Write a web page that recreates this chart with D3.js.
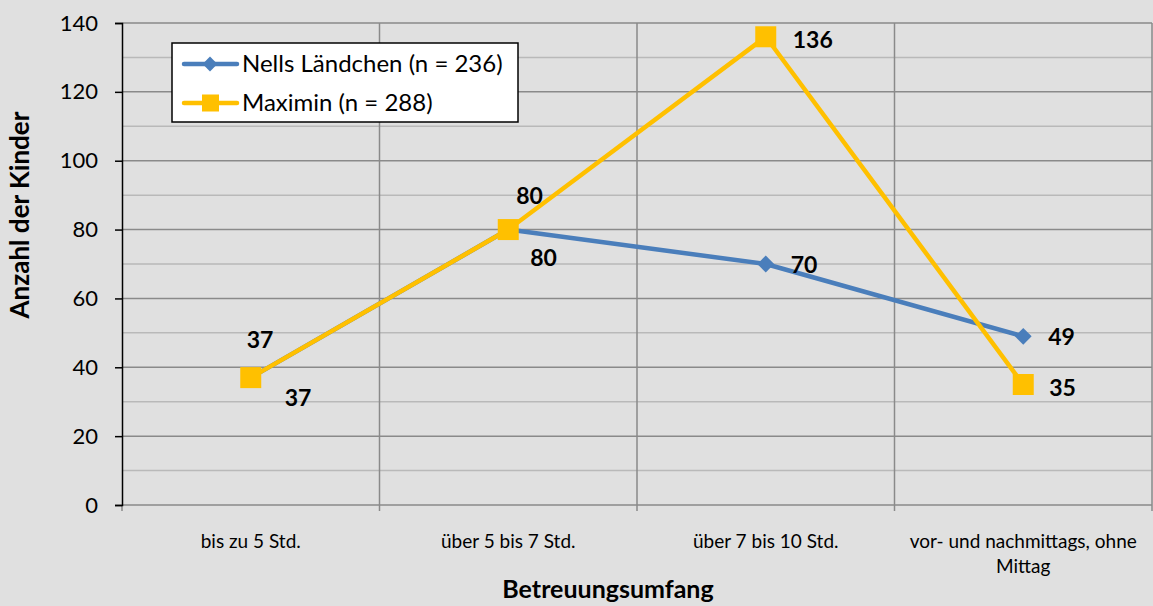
<!DOCTYPE html>
<html>
<head>
<meta charset="utf-8">
<script src="https://cdn.jsdelivr.net/npm/d3@7"></script>
<style>
  body { margin: 0; background: #e0e0e0; }
  svg { display: block; font-family: Lato, "Open Sans", sans-serif; }
</style>
</head>
<body>
<svg width="1153" height="606"></svg>
<script>
var categories = ["bis zu 5 Std.", "über 5 bis 7 Std.", "über 7 bis 10 Std.", "vor- und nachmittags, ohne|Mittag"];
var nells = [37, 80, 70, 49];
var maximin = [37, 80, 136, 35];
var seriesNames = ["Nells Ländchen (n = 236)", "Maximin (n = 288)"];
var yTicks = [0, 20, 40, 60, 80, 100, 120, 140];

var svg = d3.select("svg");
const width = +svg.attr("width");
const height = +svg.attr("height");
const plotLeft = 122, plotRight = 1152, plotTop = 23, plotBottom = 505;

svg.append("rect").attr("width", width).attr("height", height).attr("fill", "#e0e0e0");

var x = d3.scaleBand().domain(categories).range([plotLeft, plotRight]);
var y = d3.scaleLinear().domain([0, 140]).range([plotBottom, plotTop]);

// minor gridlines
svg.append("g")
  .selectAll("line")
  .data(d3.range(10, 140, 20))
  .enter().append("line")
  .attr("x1", plotLeft).attr("x2", plotRight)
  .attr("y1", d => y(d)).attr("y2", d => y(d))
  .attr("stroke", "#b9b9b9").attr("stroke-width", 1.5);

// major gridlines
svg.append("g")
  .selectAll("line")
  .data(yTicks.slice(1))
  .enter().append("line")
  .attr("x1", plotLeft).attr("x2", plotRight)
  .attr("y1", d => y(d)).attr("y2", d => y(d))
  .attr("stroke", "#8a8a8a").attr("stroke-width", 1.5);

// vertical gridlines at category boundaries
var bounds = categories.map(c => x(c)).concat([plotRight]);
svg.append("g")
  .selectAll("line")
  .data(bounds.slice(1))
  .enter().append("line")
  .attr("x1", d => d).attr("x2", d => d)
  .attr("y1", plotTop).attr("y2", plotBottom + 6)
  .attr("stroke", "#8a8a8a").attr("stroke-width", 1.5);

// x axis line
svg.append("line")
  .attr("x1", plotLeft).attr("x2", plotRight)
  .attr("y1", plotBottom).attr("y2", plotBottom)
  .attr("stroke", "#8a8a8a").attr("stroke-width", 1.5);
svg.append("line")
  .attr("x1", plotLeft).attr("x2", plotLeft)
  .attr("y1", plotBottom).attr("y2", plotBottom + 6)
  .attr("stroke", "#8a8a8a").attr("stroke-width", 1.5);

// y axis
var yAxis = d3.axisLeft(y).tickValues(yTicks).tickSize(7).tickPadding(17);
var gy = svg.append("g").attr("transform", "translate(" + plotLeft + ",0)").call(yAxis);
gy.select(".domain").attr("stroke", "#000").attr("stroke-width", 1.5);
gy.selectAll(".tick line").attr("stroke", "#000").attr("stroke-width", 1.5);
gy.selectAll(".tick text").attr("font-size", 22).attr("fill", "#000")
  .style("font-family", "Lato, 'Open Sans', sans-serif");

// category labels
var catLabels = svg.append("g").selectAll("text")
  .data(categories)
  .enter().append("text")
  .attr("x", d => x(d) + x.bandwidth() / 2)
  .attr("y", 548)
  .attr("text-anchor", "middle")
  .attr("font-size", 19)
  .attr("fill", "#000");
catLabels.each(function(d) {
  var parts = d.split("|");
  var t = d3.select(this);
  parts.forEach((p, i) => {
    t.append("tspan").attr("x", x(d) + x.bandwidth() / 2).attr("dy", i ? 25 : 0).text(p);
  });
});

// axis titles
svg.append("text")
  .attr("x", 608).attr("y", 598)
  .attr("text-anchor", "middle")
  .attr("font-size", 25).attr("font-weight", "bold")
  .text("Betreuungsumfang");
svg.append("text")
  .attr("transform", "translate(29,215) rotate(-90)")
  .attr("text-anchor", "middle")
  .attr("font-size", 26).attr("font-weight", "bold")
  .text("Anzahl der Kinder");

var cx = d => x(d) + x.bandwidth() / 2;
var line = d3.line().x((d, i) => cx(categories[i])).y(d => y(d));

// Nells series
svg.append("path").datum(nells)
  .attr("d", line).attr("fill", "none")
  .attr("stroke", "#4a7ebb").attr("stroke-width", 4.5).attr("stroke-linejoin", "round");
svg.append("g").selectAll("path")
  .data(nells).enter().append("path")
  .attr("d", d3.symbol().type(d3.symbolDiamond2).size(180))
  .attr("transform", (d, i) => "translate(" + cx(categories[i]) + "," + y(d) + ")")
  .attr("fill", "#4a7ebb");

// Maximin series
svg.append("path").datum(maximin)
  .attr("d", line).attr("fill", "none")
  .attr("stroke", "#ffc000").attr("stroke-width", 4.5).attr("stroke-linejoin", "round");
svg.append("g").selectAll("rect")
  .data(maximin).enter().append("rect")
  .attr("x", (d, i) => cx(categories[i]) - 10.5)
  .attr("y", d => y(d) - 10.5)
  .attr("width", 21).attr("height", 21)
  .attr("fill", "#ffc000");

// data labels
var nellsOff = [[34, 28], [22, 36], [25, 9], [25, 9]];
var maxOff = [[-4, -30], [8, -26], [27, 11], [26, 11]];
svg.append("g").selectAll("text")
  .data(nells).enter().append("text")
  .attr("x", (d, i) => cx(categories[i]) + nellsOff[i][0])
  .attr("y", (d, i) => y(d) + nellsOff[i][1])
  .attr("font-size", 23).attr("font-weight", "bold").attr("text-anchor", "start")
  .text(d => d);
svg.append("g").selectAll("text")
  .data(maximin).enter().append("text")
  .attr("x", (d, i) => cx(categories[i]) + maxOff[i][0])
  .attr("y", (d, i) => y(d) + maxOff[i][1])
  .attr("font-size", 23).attr("font-weight", "bold").attr("text-anchor", "start")
  .text(d => d);

// legend
var legend = svg.append("g").attr("transform", "translate(172,43)");
legend.append("rect").attr("width", 346).attr("height", 79)
  .attr("fill", "#fff").attr("stroke", "#000").attr("stroke-width", 1.5);
var colors = ["#4a7ebb", "#ffc000"];
seriesNames.forEach((name, i) => {
  var ly = 21 + i * 39;
  legend.append("line").attr("x1", 12).attr("x2", 65).attr("y1", ly).attr("y2", ly)
    .attr("stroke", colors[i]).attr("stroke-width", 4.5).attr("stroke-linecap", "round");
  if (i === 0) {
    legend.append("path")
      .attr("d", d3.symbol().type(d3.symbolDiamond2).size(140))
      .attr("transform", "translate(38," + ly + ")")
      .attr("fill", colors[i]);
  } else {
    legend.append("rect").attr("x", 30).attr("y", ly - 8.5).attr("width", 17).attr("height", 17)
      .attr("fill", colors[i]);
  }
  legend.append("text").attr("x", 70).attr("y", ly + 8)
    .attr("font-size", 24).text(name);
});
</script>
</body>
</html>
